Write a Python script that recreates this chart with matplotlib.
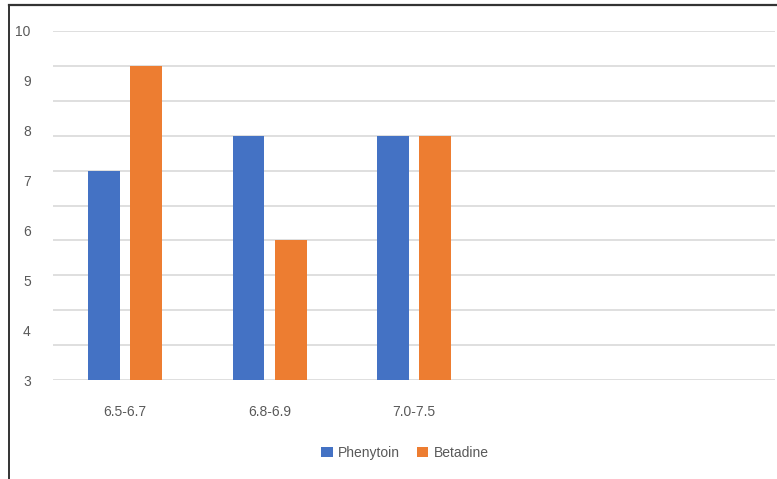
import matplotlib
matplotlib.use("Agg")
import matplotlib.pyplot as plt
import numpy as np
from matplotlib.lines import Line2D
from matplotlib.patches import Patch

# pH ranges (two trailing category slots are left empty on the axis)
categories = ["6.5-6.7", "6.8-6.9", "7.0-7.5", "", ""]
phenytoin = [7.2, 7.9, 7.9]
betadine = [9.3, 5.8, 7.9]
y_ticks = [3, 4, 5, 6, 7, 8, 9, 10]
series_names = ["Phenytoin", "Betadine"]

BLUE = "#4472C4"
ORANGE = "#ED7D31"
TEXT = "#595959"
GRID = "#D9D9D9"

plt.rcParams["font.family"] = ["Liberation Sans", "DejaVu Sans"]

fig = plt.figure(figsize=(7.77, 4.79), dpi=100)
ax = fig.add_axes([53 / 777, 1 - 380 / 479, 722 / 777, 349 / 479])

x = np.arange(len(categories))
w = 0.22
off = 0.146
ax.bar(x[:len(phenytoin)] - off, phenytoin, width=w, color=BLUE, zorder=3)
ax.bar(x[:len(betadine)] + off, betadine, width=w, color=ORANGE, zorder=3)

ymin, ymax = 3, 10
ax.set_ylim(ymin, ymax)
ax.set_xlim(-0.5, len(categories) - 0.5)

# horizontal gridlines, ten equal steps across the value range
for g in np.linspace(ymin, ymax, 11):
    ax.axhline(g, color=GRID, lw=1.2, zorder=1)

ax.set_yticks(y_ticks)
ax.set_yticklabels([str(t) for t in y_ticks])
ax.set_xticks(x)
ax.set_xticklabels(categories)
ax.tick_params(axis="y", length=0, pad=16, labelsize=10, labelcolor=TEXT)
ax.tick_params(axis="x", length=0, pad=18, labelsize=10, labelcolor=TEXT)
for s in ax.spines.values():
    s.set_visible(False)

handles = [Patch(facecolor=BLUE, edgecolor="none"), Patch(facecolor=ORANGE, edgecolor="none")]
fig.legend(handles, series_names, loc="center", bbox_to_anchor=(405 / 777, 1 - 453 / 479),
           ncol=2, frameon=False, fontsize=10, labelcolor=TEXT,
           handlelength=0.8, handleheight=0.8, handletextpad=0.4, columnspacing=1.2)

# outer chart frame (top and left edges)
fig.add_artist(Line2D([9 / 777, 1], [1 - 5 / 479, 1 - 5 / 479], color="#333333", lw=1.6,
                      transform=fig.transFigure))
fig.add_artist(Line2D([9 / 777, 9 / 777], [0, 1 - 5 / 479], color="#333333", lw=1.4,
                      transform=fig.transFigure))

fig.savefig("out.png", dpi=100)
